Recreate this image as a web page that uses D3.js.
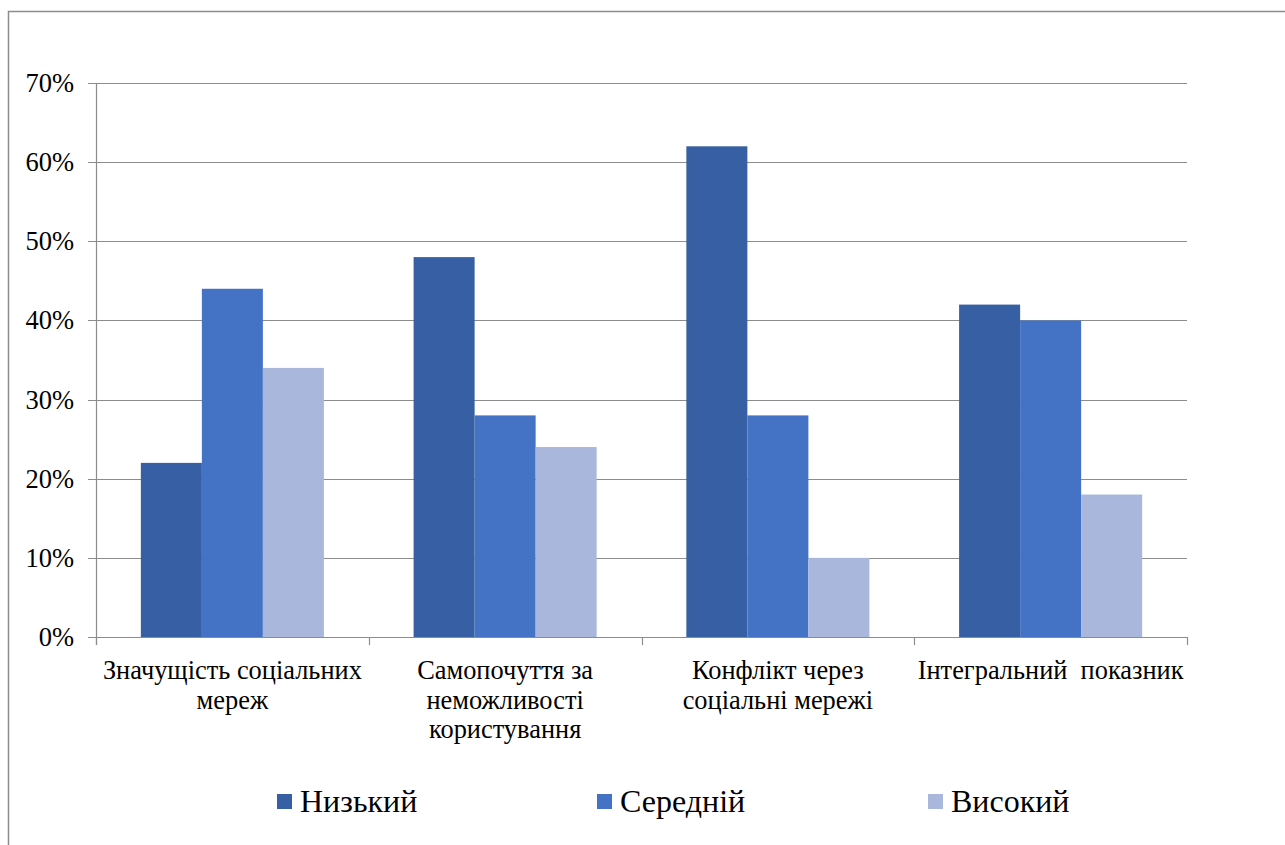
<!DOCTYPE html>
<html>
<head>
    <meta charset="utf-8">
    <script src="https://d3js.org/d3.v7.min.js"></script>
    <style>
        body { margin: 0; background: #fff; }
    </style>
</head>
<body>
    <svg id="chart" width="1285" height="845"></svg>
    <script>
        const categories = [
            ["Значущість соціальних", "мереж"],
            ["Самопочуття за", "неможливості", "користування"],
            ["Конфлікт через", "соціальні мережі"],
            ["Інтегральний  показник"]
        ];
        const seriesNames = ["Низький", "Середній", "Високий"];
        const low = [0.22, 0.48, 0.62, 0.42];
        const mid = [0.44, 0.28, 0.28, 0.40];
        const high = [0.34, 0.24, 0.10, 0.18];
        const yTicks = [0, 0.1, 0.2, 0.3, 0.4, 0.5, 0.6, 0.7];
        const colors = ["#375FA3", "#4472C4", "#A9B7DC"];

        const FONT = "'Liberation Serif'";
        const series = [low, mid, high];
        const svg = d3.select("#chart");
        const margin = { left: 96, right: 1187, top: 83, bottom: 637 };

        // outer frame (only left and top visible)
        svg.append("path")
            .attr("d", "M8.5,845 L8.5,11.5 L1285,11.5")
            .attr("fill", "none")
            .attr("stroke", "#8c8c8c")
            .attr("stroke-width", 1.5);

        const x0 = d3.scaleBand()
            .domain(d3.range(categories.length))
            .range([margin.left, margin.right])
            .paddingInner(0)
            .paddingOuter(0);
        const x1 = d3.scaleBand()
            .domain(d3.range(series.length))
            .range([0, x0.bandwidth()])
            .paddingOuter(0.735)
            .paddingInner(0);
        const y = d3.scaleLinear().domain([0, 0.7]).range([margin.bottom, margin.top]);

        // gridlines
        svg.append("g").selectAll("line")
            .data(yTicks)
            .join("line")
            .attr("x1", margin.left - 8)
            .attr("x2", margin.right)
            .attr("y1", d => Math.round(y(d)) + 0.5)
            .attr("y2", d => Math.round(y(d)) + 0.5)
            .attr("stroke", "#8c8c8c")
            .attr("stroke-width", 1.2);

        // y axis line
        svg.append("line")
            .attr("x1", margin.left + 0.5).attr("x2", margin.left + 0.5)
            .attr("y1", margin.top).attr("y2", margin.bottom + 8)
            .attr("stroke", "#8c8c8c").attr("stroke-width", 1.2);

        // category ticks
        svg.append("g").selectAll("line")
            .data(d3.range(categories.length + 1))
            .join("line")
            .attr("x1", i => Math.round(margin.left + i * x0.bandwidth()) + 0.5)
            .attr("x2", i => Math.round(margin.left + i * x0.bandwidth()) + 0.5)
            .attr("y1", margin.bottom)
            .attr("y2", margin.bottom + 8)
            .attr("stroke", "#8c8c8c").attr("stroke-width", 1.2);

        // y labels
        svg.append("g").selectAll("text")
            .data(yTicks)
            .join("text")
            .attr("x", 74)
            .attr("y", d => y(d) + 9)
            .attr("text-anchor", "end")
            .attr("font-family", FONT)
            .attr("font-size", 26.5)
            .text(d => d3.format(".0%")(d));

        // bars
        const groups = svg.append("g").selectAll("g")
            .data(categories.map((c, i) => i))
            .join("g")
            .attr("transform", i => `translate(${x0(i)},0)`);
        groups.selectAll("rect")
            .data(i => series.map((s, j) => ({ j, v: s[i] })))
            .join("rect")
            .attr("x", d => x1(d.j))
            .attr("width", x1.bandwidth())
            .attr("y", d => y(d.v))
            .attr("height", d => y(0) - y(d.v))
            .attr("fill", d => colors[d.j]);

        // category labels
        const catLabels = svg.append("g").selectAll("text")
            .data(categories)
            .join("text")
            .attr("x", (d, i) => x0(i) + x0.bandwidth() / 2)
            .attr("y", 679)
            .attr("text-anchor", "middle")
            .attr("font-family", FONT)
            .attr("font-size", 26.4)
            .attr("xml:space", "preserve");
        catLabels.selectAll("tspan")
            .data(d => d)
            .join("tspan")
            .attr("x", function () { return this.parentNode.getAttribute("x"); })
            .attr("dy", (d, i) => i === 0 ? 0 : 29.5)
            .text(d => d);

        // legend
        const legendX = [277, 597, 928];
        const legend = svg.append("g").selectAll("g")
            .data(seriesNames)
            .join("g")
            .attr("transform", (d, i) => `translate(${legendX[i]},794)`);
        legend.append("rect")
            .attr("width", 15).attr("height", 15)
            .attr("fill", (d, i) => colors[i]);
        legend.append("text")
            .attr("x", 23).attr("y", 18)
            .attr("font-family", FONT)
            .attr("font-size", 32)
            .text(d => d);
    </script>
</body>
</html>
